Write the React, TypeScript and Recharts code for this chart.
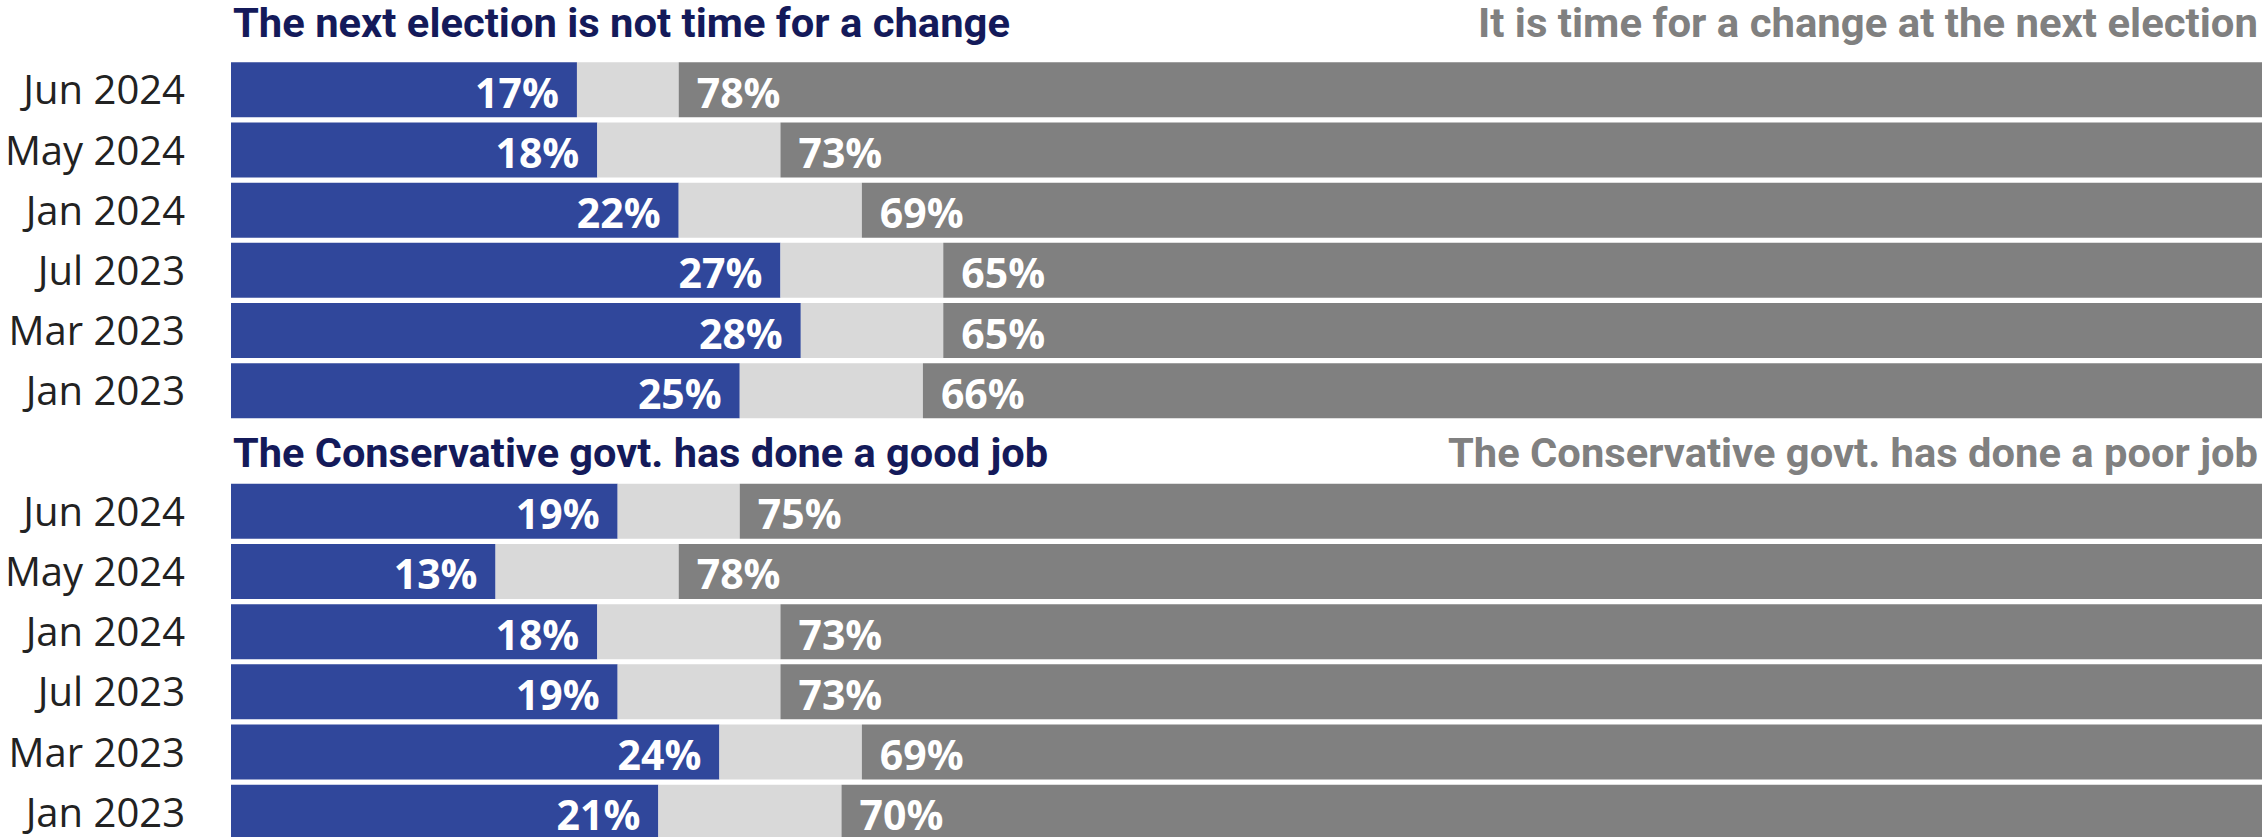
import React from 'react'
import { BarChart, Bar, XAxis, YAxis, LabelList } from 'recharts'

// survey waves, newest first
const months = ['Jun 2024', 'May 2024', 'Jan 2024', 'Jul 2023', 'Mar 2023', 'Jan 2023']

// "time for a change" question
const notTimeForChange = [17, 18, 22, 27, 28, 25]
const timeForChange = [78, 73, 69, 65, 65, 66]

// government job question
const goodJob = [19, 13, 18, 19, 24, 21]
const poorJob = [75, 78, 73, 73, 69, 70]

const titlesLeft = ['The next election is not time for a change', 'The Conservative govt. has done a good job']
const titlesRight = ['It is time for a change at the next election', 'The Conservative govt. has done a poor job']

const BLUE = '#30479b'
const LIGHT = '#d9d9d9'
const DARK = '#808080'
const NAVY = '#141a5a'

const titleStyle = [
  { dy: 8, leftLen: 777, rightLen: 780 },
  { dy: 16, leftLen: 815, rightLen: 810 },
]

type Row = { id: string; title?: number; label?: string; a?: number | null; mid?: number | null; b?: number | null }

function group(idx: number, a: number[], b: number[]): Row[] {
  const rows: Row[] = [{ id: `t${idx}`, title: idx, a: null, mid: null, b: null }]
  months.forEach((m, i) => {
    rows.push({ id: `g${idx}-${i}`, label: m, a: a[i], mid: 100 - a[i] - b[i], b: b[i] })
  })
  return rows
}

const data: Row[] = [...group(0, notTimeForChange, timeForChange), ...group(1, goodJob, poorJob)]
const byId: Record<string, Row> = {}
data.forEach((r) => (byId[r.id] = r))

const YTick = (props: any) => {
  const { y, payload } = props
  const row = byId[payload.value]
  if (!row) return null
  if (row.title !== undefined) {
    const s = titleStyle[row.title]
    return (
      <g>
        <text x={233} y={y + s.dy} fill={NAVY} fontFamily="Roboto" fontWeight={700} fontSize={41}
          textLength={s.leftLen} lengthAdjust="spacingAndGlyphs">
          {titlesLeft[row.title]}
        </text>
        <text x={2258 - s.rightLen} y={y + s.dy} fill={DARK} fontFamily="Roboto" fontWeight={700} fontSize={41}
          textLength={s.rightLen} lengthAdjust="spacingAndGlyphs">
          {titlesRight[row.title]}
        </text>
      </g>
    )
  }
  return (
    <text x={185} y={y + 15} textAnchor="end" fill="#222" fontFamily="Open Sans" fontSize={40}>
      {row.label}
    </text>
  )
}

const valueLabel = (side: 'end' | 'start') => (props: any) => {
  const { x, y, width, height, value } = props
  if (value == null) return null
  const tx = side === 'end' ? x + width - 18 : x + 18
  return (
    <text x={tx} y={y + height / 2 + 18} textAnchor={side} fill="#fff" fontFamily="Open Sans" fontWeight={700} fontSize={41}>
      {value}%
    </text>
  )
}

export default function App() {
  return (
    <div style={{ position: 'absolute', left: 0, top: 0, width: 2262, height: 837, overflow: 'hidden', background: '#fff' }}>
      <div style={{ position: 'relative', top: -1 }}>
        <BarChart width={2266} height={843} data={data} layout="vertical" margin={{ top: 0, right: 0, bottom: 0, left: 0 }} barSize={55}>
          <XAxis type="number" domain={[0, 100]} hide />
          <YAxis type="category" dataKey="id" width={231} axisLine={false} tickLine={false} interval={0} tick={<YTick />} />
          <Bar dataKey="a" stackId="s" fill={BLUE} isAnimationActive={false}>
            <LabelList dataKey="a" content={valueLabel('end')} />
          </Bar>
          <Bar dataKey="mid" stackId="s" fill={LIGHT} isAnimationActive={false} />
          <Bar dataKey="b" stackId="s" fill={DARK} isAnimationActive={false}>
            <LabelList dataKey="b" content={valueLabel('start')} />
          </Bar>
        </BarChart>
      </div>
    </div>
  )
}
